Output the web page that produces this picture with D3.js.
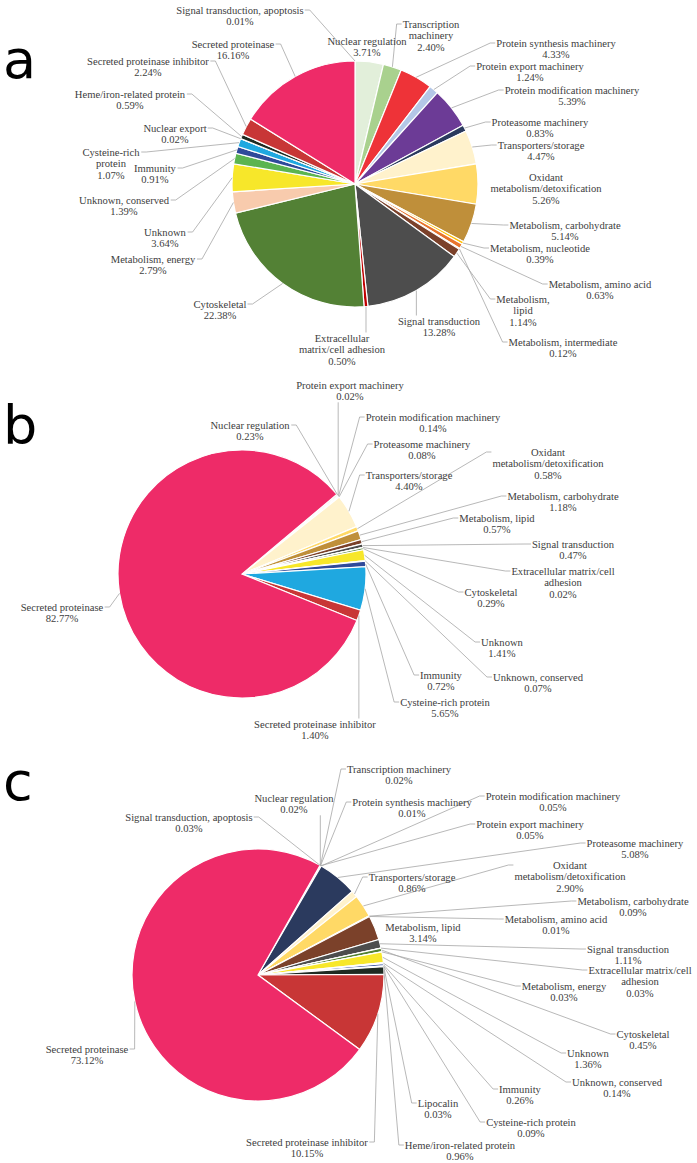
<!DOCTYPE html>
<html>
<head>
<meta charset="utf-8">
<script src="https://cdn.jsdelivr.net/npm/d3@7"></script>
<style>
  body { margin: 0; background: #fff; }
  svg text { font-family: "Liberation Serif", "Times New Roman", serif; }
</style>
</head>
<body>
<svg id="chart" width="697" height="1163"></svg>
<script>
// ---- data ----
const catA = ["Signal transduction, apoptosis", "Nuclear regulation", "Transcription machinery",
  "Protein synthesis machinery", "Protein export machinery", "Protein modification machinery",
  "Proteasome machinery", "Transporters/storage", "Oxidant metabolism/detoxification",
  "Metabolism, carbohydrate", "Metabolism, nucleotide", "Metabolism, amino acid",
  "Metabolism, intermediate", "Metabolism, lipid", "Signal transduction",
  "Extracellular matrix/cell adhesion", "Cytoskeletal", "Metabolism, energy", "Unknown",
  "Unknown, conserved", "Immunity", "Cysteine-rich protein", "Nuclear export",
  "Heme/iron-related protein", "Secreted proteinase inhibitor", "Secreted proteinase"];
const valA = [0.01, 3.71, 2.40, 4.33, 1.24, 5.39, 0.83, 4.47, 5.26, 5.14, 0.39, 0.63, 0.12, 1.14,
  13.28, 0.50, 22.38, 2.79, 3.64, 1.39, 0.91, 1.07, 0.02, 0.59, 2.24, 16.16];

const catB = ["Nuclear regulation", "Protein export machinery", "Protein modification machinery",
  "Proteasome machinery", "Transporters/storage", "Oxidant metabolism/detoxification",
  "Metabolism, carbohydrate", "Metabolism, lipid", "Signal transduction",
  "Extracellular matrix/cell adhesion", "Cytoskeletal", "Unknown", "Unknown, conserved",
  "Immunity", "Cysteine-rich protein", "Secreted proteinase inhibitor", "Secreted proteinase"];
const valB = [0.23, 0.02, 0.14, 0.08, 4.40, 0.58, 1.18, 0.57, 0.47, 0.02, 0.29, 1.41, 0.07,
  0.72, 5.65, 1.40, 82.77];

const catC = ["Signal transduction, apoptosis", "Nuclear regulation", "Transcription machinery",
  "Protein synthesis machinery", "Protein export machinery", "Protein modification machinery",
  "Proteasome machinery", "Transporters/storage", "Oxidant metabolism/detoxification",
  "Metabolism, carbohydrate", "Metabolism, amino acid", "Metabolism, lipid", "Signal transduction",
  "Extracellular matrix/cell adhesion", "Cytoskeletal", "Metabolism, energy", "Unknown",
  "Unknown, conserved", "Immunity", "Cysteine-rich protein", "Lipocalin",
  "Heme/iron-related protein", "Secreted proteinase inhibitor", "Secreted proteinase"];
const valC = [0.03, 0.02, 0.02, 0.01, 0.05, 0.05, 5.08, 0.86, 2.90, 0.09, 0.01, 3.14, 1.11,
  0.03, 0.45, 0.03, 1.36, 0.14, 0.26, 0.09, 0.03, 0.96, 10.15, 73.12];

const colour = {
  "Signal transduction, apoptosis": "#f4b183",
  "Nuclear regulation": "#e2efda",
  "Transcription machinery": "#a9d18e",
  "Protein synthesis machinery": "#ee3338",
  "Protein export machinery": "#b4c7e7",
  "Protein modification machinery": "#6c3b96",
  "Proteasome machinery": "#2b3a5e",
  "Transporters/storage": "#fff2cc",
  "Oxidant metabolism/detoxification": "#ffd966",
  "Metabolism, carbohydrate": "#bf8f3a",
  "Metabolism, nucleotide": "#ffc000",
  "Metabolism, amino acid": "#e8742c",
  "Metabolism, intermediate": "#f6dcc0",
  "Metabolism, lipid": "#7b412a",
  "Signal transduction": "#4d4d4d",
  "Extracellular matrix/cell adhesion": "#c00000",
  "Cytoskeletal": "#538135",
  "Metabolism, energy": "#f8cbad",
  "Unknown": "#f7e72a",
  "Unknown, conserved": "#5bb450",
  "Immunity": "#2f4a9a",
  "Cysteine-rich protein": "#1fa8e0",
  "Nuclear export": "#9dc3e6",
  "Lipocalin": "#8faadc",
  "Heme/iron-related protein": "#1e2b22",
  "Secreted proteinase inhibitor": "#c83636",
  "Secreted proteinase": "#ee2b68"
};

// ---- layout: label centre x / first line y, and line breaks ----
const labA = [[240,10],[367,41],[431,24],[556,43],[530,66],[572,90],[540,122],[541,145],[546,177],
  [565,225],[540,248],[600,284],[563,342],[523,299],[439,321],[342,338],[220,304],[153,259],
  [165,232],[124,200],[155,168],[111,152],[175,128],[130,94],[148,61],[233,44]];
const labB = [[250,425],[350,385],[433,417],[422,444],[409,475],[548,452],[563,496],[497,518],
  [573,544],[563,571],[491,592],[502,642],[538,677],[441,675],[445,702],[315,724],[62,607]];
const labC = [[189,817],[294,798],[399,769],[412,802],[530,824],[553,796],[635,843],[412,877],
  [570,865],[633,901],[556,919],[423,927],[628,949],[640,970],[643,1034],[564,986],[588,1053],
  [617,1082],[520,1089],[531,1122],[438,1103],[460,1145],[307,1142],[87,1049]];

const oxidant = ["Oxidant", "metabolism/detoxification"];
const wrapA = {
  "Transcription machinery": ["Transcription", "machinery"],
  "Oxidant metabolism/detoxification": oxidant,
  "Metabolism, lipid": ["Metabolism,", "lipid"],
  "Extracellular matrix/cell adhesion": ["Extracellular", "matrix/cell adhesion"],
  "Cysteine-rich protein": ["Cysteine-rich", "protein"]
};
const wrapBC = {
  "Oxidant metabolism/detoxification": oxidant,
  "Extracellular matrix/cell adhesion": ["Extracellular matrix/cell", "adhesion"]
};

const svg = d3.select("#chart");

function drawPie(cats, vals, labs, wrap, cx, cy, r, startDeg) {
  const g = svg.append("g").attr("transform", `translate(${cx},${cy})`);
  const a0 = startDeg * Math.PI / 180;
  const pie = d3.pie().sort(null).value(d => d.v).startAngle(a0).endAngle(a0 + 2 * Math.PI);
  const arc = d3.arc().innerRadius(0).outerRadius(r);
  const arcs = pie(cats.map((c, i) => ({ c: c, v: vals[i], i: i })));

  g.selectAll("path.slice").data(arcs).enter().append("path")
    .attr("class", "slice")
    .attr("d", arc)
    .attr("fill", d => colour[d.data.c])
    .attr("stroke", "#fff")
    .attr("stroke-width", 1.2);

  const lines = svg.append("g");
  const lh = 11.8;
  arcs.forEach(d => {
    const [lx, ly] = labs[d.data.i];
    const parts = (wrap[d.data.c] || [d.data.c]).concat([d.data.v.toFixed(2) + "%"]);
    const t = svg.append("text")
      .attr("text-anchor", "middle")
      .attr("font-size", "10.6px")
      .attr("fill", "#404040");
    parts.forEach((p, k) => {
      t.append("tspan").attr("x", lx).attr("y", ly + 3.5 + k * lh).text(p);
    });
    const bb = t.node().getBBox();
    const mid = (d.startAngle + d.endAngle) / 2;
    const px = cx + r * Math.sin(mid), py = cy - r * Math.cos(mid);
    let pts;
    if (px < bb.x - 2) {
      pts = [[px, py], [bb.x - 6, ly], [bb.x - 1, ly]];
    } else if (px > bb.x + bb.width + 2) {
      pts = [[px, py], [bb.x + bb.width + 6, ly], [bb.x + bb.width + 1, ly]];
    } else if (py < bb.y) {
      pts = [[px, py], [px, bb.y]];
    } else {
      pts = [[px, py], [px, bb.y + bb.height]];
    }
    const first = pts[0], last = pts[pts.length - 1];
    if (Math.hypot(first[0] - last[0], first[1] - last[1]) < 14) return;
    lines.append("path")
      .attr("d", d3.line()(pts))
      .attr("fill", "none")
      .attr("stroke", "#a6a6a6")
      .attr("stroke-width", 0.8);
  });
}

drawPie(catA, valA, labA, wrapA, 355, 184, 123, 0);
drawPie(catB, valB, labB, wrapBC, 242, 574, 124, 50);
drawPie(catC, valC, labC, wrapBC, 258, 975, 126, 29.5);

// panel letters
[["a", 78], ["b", 444], ["c", 800]].forEach(([ch, y]) => {
  svg.append("text").attr("x", 3).attr("y", y)
    .style("font-family", "'DejaVu Sans', sans-serif")
    .attr("font-size", "54px").attr("fill", "#000").text(ch);
});
</script>
</body>
</html>
